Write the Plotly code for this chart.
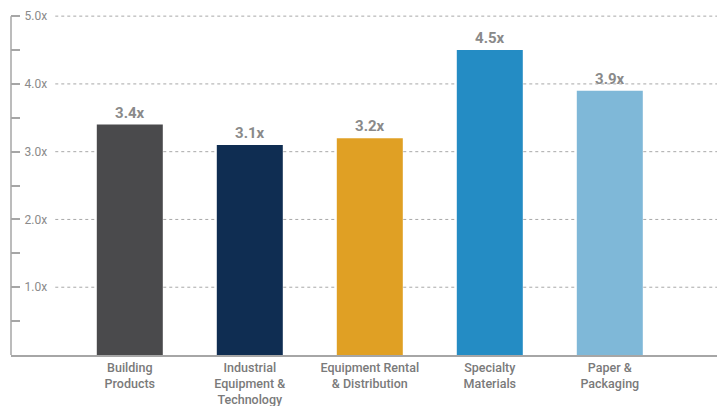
import plotly.graph_objects as go

categories = ["Building<br>Products", "Industrial<br>Equipment &<br>Technology",
              "Equipment Rental<br>& Distribution", "Specialty<br>Materials",
              "Paper &<br>Packaging"]
values = [3.4, 3.1, 3.2, 4.5, 3.9]
value_labels = ["3.4x", "3.1x", "3.2x", "4.5x", "3.9x"]
colors = ["#4a4a4c", "#0f2d52", "#e0a024", "#248cc4", "#7fb8d8"]
y_ticks = [1, 2, 3, 4, 5]
y_tick_labels = ["1.0x", "2.0x", "3.0x", "4.0x", "5.0x"]

FONT = "Roboto, sans-serif"
AXIS_COLOR = "#a6a6a6"

fig = go.Figure()
fig.add_bar(
    x=categories, y=values, marker=dict(color=colors, line=dict(width=0)),
    width=0.55, text=value_labels, textposition="outside", cliponaxis=False,
    textfont=dict(family=FONT, size=15, color="#8a8a8a", weight="bold"),
)

for yv in y_ticks:
    fig.add_shape(type="line", xref="paper", yref="y", x0=0.062, x1=1, y0=yv, y1=yv,
                  line=dict(color="#a8a8a8", width=1, dash="3px,3px"), layer="below")

# left axis line from 0 to 5.0
fig.add_shape(type="line", xref="paper", yref="y", x0=0, x1=0, y0=0, y1=y_ticks[-1],
              line=dict(color=AXIS_COLOR, width=1.5))

fig.update_layout(
    width=717, height=398,
    margin=dict(l=3, r=0, t=0, b=51),
    plot_bgcolor="white", paper_bgcolor="white",
    showlegend=False,
    font=dict(family=FONT, color="#7f7f7f"),
)
fig.update_xaxes(
    range=[-0.99, 4.96], showgrid=False, showline=True, linecolor=AXIS_COLOR, linewidth=1.5,
    ticks="", automargin=False, fixedrange=True,
    tickfont=dict(family=FONT, size=12.5, color="#7a7a7a", weight=500),
)
fig.update_yaxes(
    range=[0, 5.12], tickvals=y_ticks, ticktext=y_tick_labels, showgrid=False,
    showline=False,
    ticks="inside", ticklen=9, tickcolor=AXIS_COLOR, tickwidth=1.5,
    ticklabelposition="inside", ticklabelstandoff=4,
    tickfont=dict(family=FONT, size=12, color="#8a8a8a"),
    minor=dict(tickvals=[0.5, 1.5, 2.5, 3.5, 4.5], ticks="inside", ticklen=9,
               tickcolor=AXIS_COLOR, tickwidth=1.5),
    zeroline=False, automargin=False,
)

fig.write_html("out.html")
